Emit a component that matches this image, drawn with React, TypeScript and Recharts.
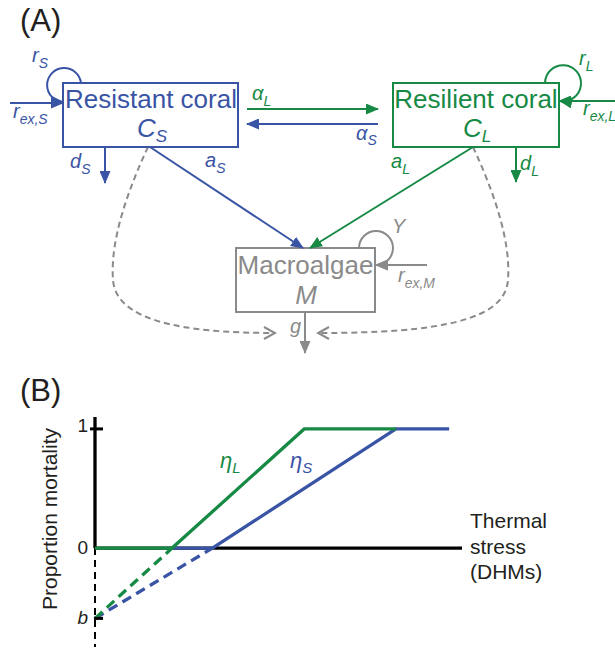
import React from 'react'
import { LineChart, Line, XAxis, YAxis, ReferenceLine } from 'recharts'

const BLUE = '#3a54a5'
const GREEN = '#168a45'
const GREY = '#8a8a8a'
const INK = '#231f20'
const FONT = '"Liberation Sans", Arial, sans-serif'

// intercept b of the mortality lines (below the stress axis)
const B = -0.59

// thermal stress breakpoints and proportion mortality
const resilientStress = [0, 2.1, 5.7, 8.2]
const resilientMortality = [0, 0, 1, 1]
const resistantStress = [2.1, 3.2, 8.2, 9.65]
const resistantMortality = [0, 0, 1, 1]

// linear parts extended back to the intercept b
const resilientExtStress = [0, 2.1]
const resilientExtMortality = [B, 0]
const resistantExtStress = [0, 3.2]
const resistantExtMortality = [B, 0]

const yTicks = [B, 0, 1]
const yTickLabels = ['b', '0', '1']
const stressMax = 10
const mortalityDomain = [-0.83, 1.1]

const toPoints = (xs: number[], ys: number[]) => xs.map((x, i) => ({ x, y: ys[i] }))

const TICK_MARGIN = 7

function MortalityTick(props: any) {
  const { x, y, payload } = props
  const v = payload.value
  const label = yTickLabels[yTicks.indexOf(v)]
  const axisX = x + TICK_MARGIN
  return (
    <g>
      {v !== 0 && (
        <line x1={axisX - (v === 1 ? 5 : 1)} x2={axisX + 8} y1={y} y2={y} stroke='#000' strokeWidth={3} />
      )}
      <text
        x={x}
        y={y}
        dy={v === 1 ? 3 : 6}
        textAnchor='end'
        fontSize={19}
        fontFamily={FONT}
        fontStyle={label === 'b' ? 'italic' : 'normal'}
        fill={INK}
      >
        {label}
      </text>
    </g>
  )
}

function MortalityLabel(props: any) {
  const vb = props.viewBox || { x: 0, y: 417, width: 95, height: 230 }
  const cx = vb.x + 57
  const cy = vb.y + 102
  return (
    <text x={cx} y={cy} transform={`rotate(-90, ${cx}, ${cy})`} textAnchor='middle' fontSize={21} fontFamily={FONT} fill={INK}>
      Proportion mortality
    </text>
  )
}

function StressLabel(props: any) {
  const vb = props.viewBox || { x: 95, y: 548, width: 367, height: 0 }
  const x = vb.x + vb.width + 8
  return (
    <text x={x} y={vb.y - 20} fontSize={21} fontFamily={FONT} fill={INK}>
      <tspan x={x}>Thermal</tspan>
      <tspan x={x} dy={25.5}>stress</tspan>
      <tspan x={x} dy={25.5}>(DHMs)</tspan>
    </text>
  )
}

function Sym({ x, y, base, sub, color, size = 20, subSize = 14, shift = 6, anchor = 'start' }: any) {
  return (
    <text x={x} y={y} fill={color} fontSize={size} fontStyle='italic' textAnchor={anchor} fontFamily={FONT}>
      {base}
      {sub && (
        <tspan fontSize={subSize} dy={shift}>
          {sub}
        </tspan>
      )}
    </text>
  )
}

function Head({ id, color }: { id: string; color: string }) {
  return (
    <marker id={id} viewBox='0 0 13 11' refX={12} refY={5.5} markerWidth={13} markerHeight={11} markerUnits='userSpaceOnUse' orient='auto'>
      <path d='M0,0 L13,5.5 L0,11 z' fill={color} />
    </marker>
  )
}

// compartment diagram: resistant / resilient coral and macroalgae
function Diagram() {
  const box = { fill: 'none', strokeWidth: 2 }
  const arrow = (color: string, id: string) => ({ stroke: color, strokeWidth: 2, fill: 'none', markerEnd: `url(#${id})` })
  return (
    <svg width={615} height={650} style={{ position: 'absolute', left: 0, top: 0, pointerEvents: 'none' }}>
      <defs>
        <Head id='hb' color={BLUE} />
        <Head id='hg' color={GREEN} />
        <Head id='hk' color={GREY} />
        <marker id='chev' viewBox='0 0 14 14' refX={12} refY={7} markerWidth={14} markerHeight={14} markerUnits='userSpaceOnUse' orient='auto'>
          <path d='M1,1 L12,7 L1,13' fill='none' stroke={GREY} strokeWidth={2} />
        </marker>
      </defs>

      <text x={20} y={31} fontSize={31} fontFamily={FONT} fill={INK}>(A)</text>
      <text x={20} y={401} fontSize={31} fontFamily={FONT} fill={INK}>(B)</text>

      {/* dashed flows from coral to grazing */}
      <path d='M148,147 C128,190 110,240 113,280 C116,320 180,333 275,333' stroke={GREY} strokeWidth={2} fill='none' strokeDasharray='6 4' markerEnd='url(#chev)' />
      <path d='M473,147 C493,190 511,240 508,280 C505,320 441,333 318,333' stroke={GREY} strokeWidth={2} fill='none' strokeDasharray='6 4' markerEnd='url(#chev)' />

      <rect x={63} y={83} width={175} height={64} stroke={BLUE} {...box} />
      <rect x={393} y={83} width={166} height={64} stroke={GREEN} {...box} />
      <rect x={236} y={248} width={139} height={64} stroke={GREY} {...box} />

      <text x={151} y={108} textAnchor='middle' fontSize={26} fontFamily={FONT} fill={BLUE}>Resistant coral</text>
      <text x={476} y={108} textAnchor='middle' fontSize={26} fontFamily={FONT} fill={GREEN}>Resilient coral</text>
      <text x={305.5} y={274} textAnchor='middle' fontSize={26} fontFamily={FONT} fill={GREY}>Macroalgae</text>

      <Sym x={137} y={137} base='C' sub='S' color={BLUE} size={26} subSize={17} shift={5} />
      <Sym x={463} y={137} base='C' sub='L' color={GREEN} size={26} subSize={17} shift={5} />
      <Sym x={306} y={304} base='M' color={GREY} size={26} anchor='middle' />

      <path d='M247,109 L378,109' {...arrow(GREEN, 'hg')} />
      <path d='M378,124 L247,124' {...arrow(BLUE, 'hb')} />
      <path d='M10,103 L63,103' {...arrow(BLUE, 'hb')} />
      <path d='M105,147 L105,183' {...arrow(BLUE, 'hb')} />
      <path d='M150,147 L303,248' {...arrow(BLUE, 'hb')} />
      <path d='M473,147 L310,248' {...arrow(GREEN, 'hg')} />
      <path d='M516,147 L516,182' {...arrow(GREEN, 'hg')} />
      <path d='M615,101 L559,101' {...arrow(GREEN, 'hg')} />
      <path d='M427,265 L376,265' {...arrow(GREY, 'hk')} />
      <path d='M305,312 L305,353' {...arrow(GREY, 'hk')} />

      <path d='M81,83 A17,17 0 1 0 63,102' {...arrow(BLUE, 'hb')} />
      <path d='M545,83 A18,18 0 1 1 560,101' {...arrow(GREEN, 'hg')} />
      <path d='M359,248 A17,17 0 1 1 376,265' {...arrow(GREY, 'hk')} />

      <Sym x={32} y={62} base='r' sub='S' color={BLUE} />
      <Sym x={13} y={118} base='r' sub='ex,S' color={BLUE} />
      <Sym x={70} y={168} base='d' sub='S' color={BLUE} />
      <Sym x={205} y={167} base='a' sub='S' color={BLUE} />
      <Sym x={252} y={100} base='α' sub='L' color={GREEN} />
      <Sym x={356} y={140} base='α' sub='S' color={BLUE} shift={5} />
      <Sym x={579} y={65} base='r' sub='L' color={GREEN} />
      <Sym x={583} y={115} base='r' sub='ex,L' color={GREEN} />
      <Sym x={520} y={170} base='d' sub='L' color={GREEN} />
      <Sym x={391} y={168} base='a' sub='L' color={GREEN} />
      <Sym x={392} y={233} base='Y' color={GREY} />
      <Sym x={398} y={282} base='r' sub='ex,M' color={GREY} />
      <Sym x={290} y={333} base='g' color={GREY} />

      <Sym x={220} y={468} base='η' sub='L' color={GREEN} size={22} subSize={15} shift={5} />
      <Sym x={290} y={468} base='η' sub='S' color={BLUE} size={22} subSize={15} shift={5} />
    </svg>
  )
}

export default function App() {
  const lineProps = { dataKey: 'y', dot: false, isAnimationActive: false, strokeWidth: 3.3, strokeLinejoin: 'miter' as const }
  return (
    <div style={{ position: 'absolute', left: 0, top: 0, width: 615, height: 650, background: '#fff' }}>
      <div style={{ position: 'absolute', left: 0, top: 0 }}>
        <LineChart width={615} height={650} margin={{ top: 417, right: 153, bottom: 3, left: 0 }}>
          <XAxis type='number' dataKey='x' domain={[0, stressMax]} hide />
          <YAxis
            type='number'
            domain={mortalityDomain}
            ticks={yTicks}
            interval={0}
            width={95}
            axisLine={false}
            tickLine={false}
            tickSize={0}
            tickMargin={TICK_MARGIN}
            tick={<MortalityTick />}
            label={{ content: <MortalityLabel /> }}
          />
          <ReferenceLine segment={[{ x: 0, y: 0 }, { x: 0, y: 1.1 }]} stroke='#000' strokeWidth={3.3} />
          <ReferenceLine segment={[{ x: 0, y: 0 }, { x: 0, y: -0.83 }]} stroke='#000' strokeWidth={2} strokeDasharray='7 5' />
          <ReferenceLine segment={[{ x: 0, y: 0 }, { x: stressMax, y: 0 }]} stroke='#000' strokeWidth={3.3} label={{ content: <StressLabel /> }} />
          <Line data={toPoints(resistantExtStress, resistantExtMortality)} stroke={BLUE} strokeDasharray='10 6' {...lineProps} />
          <Line data={toPoints(resilientExtStress, resilientExtMortality)} stroke={GREEN} strokeDasharray='10 6' {...lineProps} />
          <Line data={toPoints(resistantStress, resistantMortality)} stroke={BLUE} {...lineProps} />
          <Line data={toPoints(resilientStress, resilientMortality)} stroke={GREEN} {...lineProps} />
        </LineChart>
      </div>
      <Diagram />
    </div>
  )
}
